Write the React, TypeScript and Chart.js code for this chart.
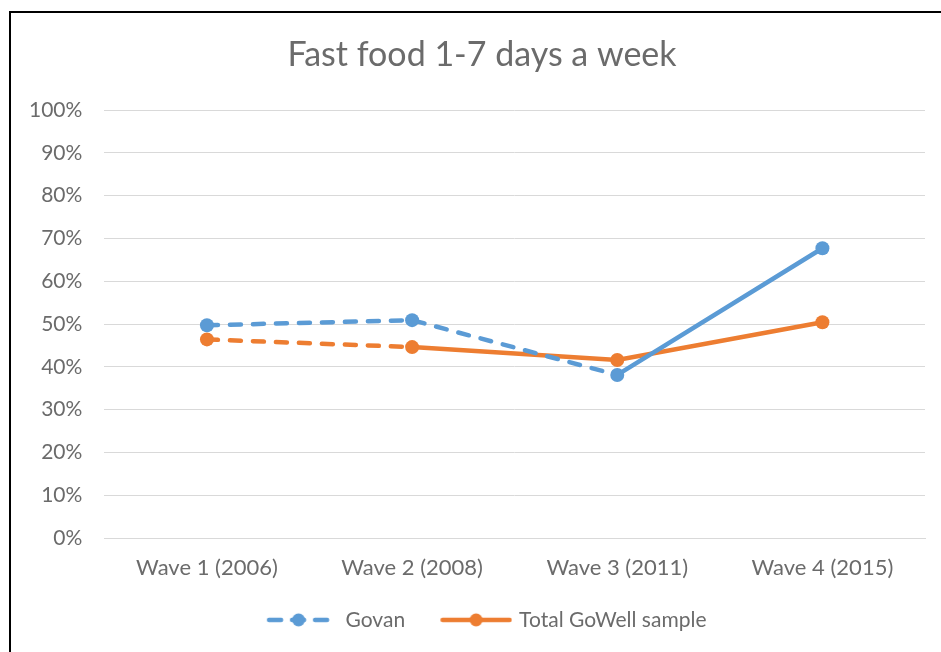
import React, { useEffect, useRef } from "react";
import { Chart, registerables } from "chart.js";

Chart.register(...registerables);

const categories = ["Wave 1 (2006)", "Wave 2 (2008)", "Wave 3 (2011)", "Wave 4 (2015)"];
const govan = [0.497, 0.509, 0.381, 0.677];
const totalGoWell = [0.464, 0.446, 0.416, 0.504];
const seriesNames = ["Govan", "Total GoWell sample"];
const chartTitle = "Fast food 1-7 days a week";

const BLUE = "#5B9BD5";
const ORANGE = "#ED7D31";
const TEXT = "#6b6b6b";
const FONT = "Lato";

// Legend symbol image; content spans [a, b] in legend-box coordinates (box is [0, W]).
function legendImage(color: string, dashed: boolean, a: number, b: number, W: number) {
  const half = Math.max(W / 2 - a, b - W / 2);
  const Wi = Math.ceil(half * 2);
  const origin = W / 2 - Wi / 2; // box coordinate of image x=0
  const c = document.createElement("canvas");
  c.width = Wi;
  c.height = 16;
  const ctx = c.getContext("2d")!;
  ctx.strokeStyle = color;
  ctx.fillStyle = color;
  ctx.lineWidth = 4.5;
  ctx.lineCap = "round";
  if (dashed) ctx.setLineDash([12, 11]);
  ctx.beginPath();
  ctx.moveTo(a - origin + 2.5, 8);
  ctx.lineTo(b - origin - 2.5, 8);
  ctx.stroke();
  ctx.setLineDash([]);
  ctx.beginPath();
  ctx.arc((a + b) / 2 - origin, 8, 6.5, 0, Math.PI * 2);
  ctx.fill();
  return c;
}

const shiftPlugin = {
  id: "shiftBlocks",
  afterLayout(chart: any) {
    if (chart.titleBlock) {
      chart.titleBlock.left += 16;
      chart.titleBlock.right += 16;
    }
    if (chart.legend) {
      chart.legend.left += 12.5;
      chart.legend.right += 12.5;
    }
  },
};

export default function App() {
  const ref = useRef<HTMLCanvasElement>(null);
  useEffect(() => {
    document.body.style.margin = "0";
    const W = 84.5;
    const imgGovan = legendImage(BLUE, true, 16, 80, W);
    const imgTotal = legendImage(ORANGE, false, 16, 88, W);
    const dashUntil = (lastDashedIdx: number) => (ctx: any) =>
      ctx.p1DataIndex <= lastDashedIdx ? [11, 12] : undefined;
    const chart = new Chart(ref.current!, {
      type: "line",
      data: {
        labels: categories,
        datasets: [
          {
            label: seriesNames[0],
            data: govan,
            borderColor: BLUE,
            backgroundColor: BLUE,
            borderWidth: 4.5,
            borderCapStyle: "round",
            pointRadius: 7,
            pointHoverRadius: 7,
            pointBorderWidth: 0,
            pointStyle: "circle",
            tension: 0,
            segment: { borderDash: dashUntil(2) },
          },
          {
            label: seriesNames[1],
            data: totalGoWell,
            borderColor: ORANGE,
            backgroundColor: ORANGE,
            borderWidth: 4.5,
            borderCapStyle: "round",
            pointRadius: 7,
            pointHoverRadius: 7,
            pointBorderWidth: 0,
            pointStyle: "circle",
            tension: 0,
            segment: { borderDash: dashUntil(1) },
          },
        ],
      },
      options: {
        responsive: false,
        animation: false,
        layout: { padding: { left: 7, right: 16, top: 34.6, bottom: 11.6 } },
        plugins: {
          title: {
            display: true,
            text: chartTitle,
            color: TEXT,
            font: { family: FONT, size: 34, weight: "normal" },
            padding: { top: 0, bottom: 34.6 },
          },
          legend: {
            position: "bottom",
            labels: {
              usePointStyle: true,
              pointStyleWidth: W,
              padding: 19,
              color: TEXT,
              font: { family: FONT, size: 21 },
              generateLabels: () => [
                { text: seriesNames[0], pointStyle: imgGovan, datasetIndex: 0, fontColor: TEXT } as any,
                { text: seriesNames[1], pointStyle: imgTotal, datasetIndex: 1, fontColor: TEXT } as any,
              ],
            },
          },
          tooltip: { enabled: false },
        },
        scales: {
          x: {
            offset: true,
            grid: { display: false },
            border: { color: "#d9d9d9", width: 1 },
            ticks: { color: TEXT, font: { family: FONT, size: 22 }, padding: 9 },
          },
          y: {
            min: 0,
            max: 1,
            ticks: {
              stepSize: 0.1,
              color: TEXT,
              font: { family: FONT, size: 21 },
              padding: 22,
              callback: (v: any) => Math.round(Number(v) * 100) + "%",
            },
            grid: { color: "#d9d9d9", lineWidth: 1, drawTicks: false },
            border: { display: false },
          },
        },
      },
      plugins: [shiftPlugin],
    });
    return () => chart.destroy();
  }, []);
  return (
    <div style={{ position: "fixed", left: 0, top: 0, width: 941, height: 652, background: "#fff", overflow: "hidden" }}>
      <div
        style={{
          position: "absolute",
          left: 9,
          top: 11,
          width: 1000,
          height: 700,
          border: "2px solid #000",
          boxSizing: "border-box",
        }}
      />
      <canvas ref={ref} width={941} height={652} style={{ position: "absolute", left: 0, top: 0 }} />
    </div>
  );
}
